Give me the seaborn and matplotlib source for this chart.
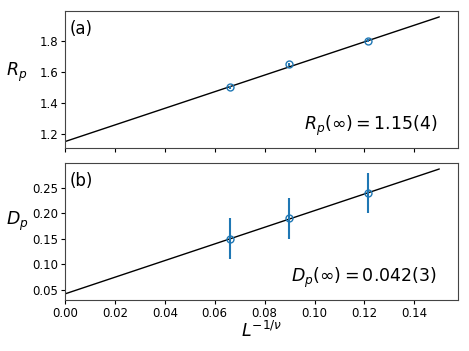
import matplotlib
matplotlib.use("Agg")
import matplotlib.pyplot as plt
import seaborn as sns
import pandas as pd

sns.set_style("ticks")
plt.rcParams["font.family"] = ["DejaVu Sans"]
plt.rcParams["mathtext.fontset"] = "dejavusans"
plt.rcParams["text.color"] = "black"
plt.rcParams["axes.labelcolor"] = "black"
plt.rcParams["xtick.color"] = "black"
plt.rcParams["ytick.color"] = "black"

# data
x_pts = [0.0662, 0.0898, 0.1213]
R_pts = [1.50, 1.65, 1.80]
R_err = [0.01, 0.01, 0.01]
D_pts = [0.15, 0.19, 0.24]
D_err = [0.04, 0.04, 0.04]

# fitted straight lines (end points)
fit_x = [0.0, 0.15]
fit_R = [1.15, 1.955]
fit_D = [0.042, 0.287]

fig = plt.figure(figsize=(4.69, 3.51), dpi=100)
ax1 = fig.add_axes([0.1386, 0.579, 0.838, 0.3905])
ax2 = fig.add_axes([0.1386, 0.1453, 0.838, 0.3907], sharex=ax1)

blue = "#1f77b4"

for ax, y, err, fy in [(ax1, R_pts, R_err, fit_R), (ax2, D_pts, D_err, fit_D)]:
    df = pd.DataFrame({"x": fit_x, "y": fy})
    sns.lineplot(data=df, x="x", y="y", color="black", lw=1, ax=ax)
    ax.errorbar(x_pts, y, yerr=err, fmt="o", mfc="none", mec=blue, ecolor=blue,
                ms=5, elinewidth=1.5, capsize=0)
    for s in ax.spines.values():
        s.set_color("#444444")
    ax.tick_params(labelsize=8.5, direction="out", length=3, pad=2)

ax1.set_xlim(0, 0.1575)
ax1.set_ylim(1.11, 1.995)
ax1.set_yticks([1.2, 1.4, 1.6, 1.8])
ax1.tick_params(labelbottom=False)
ax1.set_xlabel("")
ax1.set_ylabel(r"$R_p$", fontsize=12.5, rotation=0, va="center", ha="center")
ax1.yaxis.set_label_coords(-0.122, 0.55)
ax1.text(0.012, 0.93, "(a)", transform=ax1.transAxes, fontsize=12, va="top")
ax1.text(0.947, 0.07, r"$R_p(\infty) = 1.15(4)$", transform=ax1.transAxes,
         fontsize=12.5, ha="right", va="bottom")

ax2.set_ylim(0.030, 0.299)
ax2.set_yticks([0.05, 0.10, 0.15, 0.20, 0.25])
ax2.set_xticks([0.00, 0.02, 0.04, 0.06, 0.08, 0.10, 0.12, 0.14])
ax2.set_xlabel(r"$L^{-1/\nu}$", fontsize=12.5, va="top")
ax2.xaxis.set_label_coords(0.5, -0.15)
ax2.set_ylabel(r"$D_p$", fontsize=12.5, rotation=0, va="center", ha="center")
ax2.yaxis.set_label_coords(-0.122, 0.57)
ax2.text(0.012, 0.93, "(b)", transform=ax2.transAxes, fontsize=12, va="top")
ax2.text(0.947, 0.07, r"$D_p(\infty) = 0.042(3)$", transform=ax2.transAxes,
         fontsize=12.5, ha="right", va="bottom")

fig.savefig("out.png", dpi=100)
